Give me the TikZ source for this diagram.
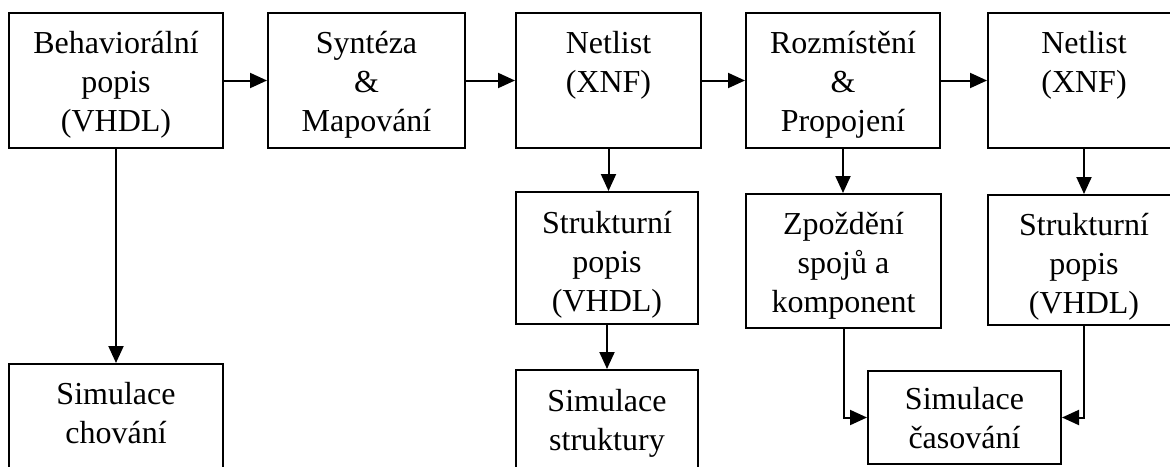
\documentclass[tikz,border=0pt]{standalone}
\usepackage{fontspec}
\setmainfont{Liberation Serif}
\usetikzlibrary{arrows.meta}
\newcommand{\toprule}{\rule{0pt}{28pt}}
\begin{document}
\begin{tikzpicture}[x=1pt,y=-1pt,
  box/.style={draw=black, line width=2pt, fill=white, inner sep=0pt},
  txt/.style={inner sep=0pt, align=center, anchor=north,
    font=\fontsize{32}{39}\selectfont},
  conn/.style={line width=2pt, -{Triangle[length=17pt,width=15pt]}}]
\useasboundingbox (0,0) rectangle (1170,466);
\clip (0,0) rectangle (1170,466);
\fill[white] (0,0) rectangle (1170,466);
% top row (top edge y=13)
\node[box, minimum width=214pt, minimum height=135pt] (A) at (116,80.5) {};
\node[box, minimum width=197pt, minimum height=135pt] (B) at (366.5,80.5) {};
\node[box, minimum width=185pt, minimum height=135pt] (C) at (608.5,80.5) {};
\node[box, minimum width=194pt, minimum height=135pt] (D) at (843,80.5) {};
\node[box, minimum width=192pt, minimum height=135pt] (E) at (1084,80.5) {};
% second row
\node[box, minimum width=182pt, minimum height=132pt] (G) at (607,258) {};
\node[box, minimum width=195pt, minimum height=134pt] (I) at (843.5,261) {};
\node[box, minimum width=192pt, minimum height=130pt] (J) at (1084,260) {};
% bottom row
\node[box, minimum width=214pt, minimum height=104pt] (F) at (116,416) {};
\node[box, minimum width=182pt, minimum height=104pt] (H) at (607,422) {};
\node[box, minimum width=193pt, minimum height=93pt] (K) at (964.5,417.5) {};
% texts (first baseline about 41.5 below the box top)
\node[txt] (At) at ([yshift=-13.5pt]A.north) {\toprule Behaviorální\\popis\\(VHDL)};
\node[txt] (Bt) at ([yshift=-13.5pt]B.north) {\toprule Syntéza\\\&\\Mapování};
\node[txt] (Ct) at ([yshift=-13.5pt]C.north) {\toprule Netlist\\(XNF)};
\node[txt] (Dt) at ([yshift=-13.5pt]D.north) {\toprule Rozmístění\\\&\\Propojení};
\node[txt] (Et) at ([yshift=-13.5pt]E.north) {\toprule Netlist\\(XNF)};
\node[txt] (Gt) at ([yshift=-14pt]G.north) {\toprule Strukturní\\popis\\(VHDL)};
\node[txt] (It) at ([yshift=-13pt]I.north) {\toprule Zpoždění\\spojů a\\komponent};
\node[txt] (Jt) at ([yshift=-13pt]J.north) {\toprule Strukturní\\popis\\(VHDL)};
\node[txt] (Ft) at ([yshift=-13pt]F.north) {\toprule Simulace\\chování};
\node[txt] (Ht) at ([yshift=-14pt]H.north) {\toprule Simulace\\struktury};
\node[txt] (Kt) at ([yshift=-11.5pt]K.north) {\toprule Simulace\\časování};
% connectors
\draw[conn] (A.east) -- (B.west);
\draw[conn] (B.east) -- (C.west);
\draw[conn] (C.east) -- (D.west);
\draw[conn] (D.east) -- (E.west);
\draw[conn] (A.south) -- (F.north);
\draw[conn] (C.south) -- (C.south |- G.north);
\draw[conn] (G.south) -- (G.south |- H.north);
\draw[conn] (D.south) -- (D.south |- I.north);
\draw[conn] (E.south) -- (E.south |- J.north);
\draw[conn] (I.south) |- (K.west);
\draw[conn] (J.south) |- (K.east);
\end{tikzpicture}
\end{document}
